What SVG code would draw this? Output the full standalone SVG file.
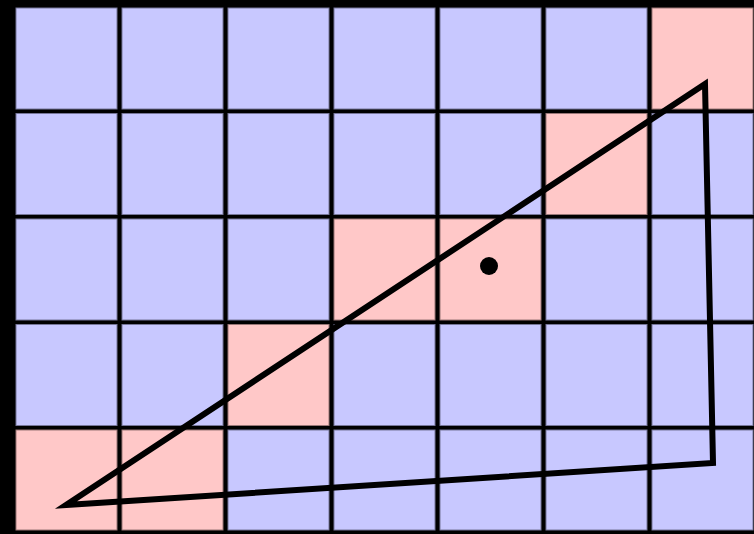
<svg xmlns="http://www.w3.org/2000/svg" width="754" height="534" viewBox="0 0 754 534">
<style>
.b{fill:#c8c8ff;stroke:#777799;stroke-width:1}
.p{fill:#ffc8c8;stroke:#997777;stroke-width:1}
</style>
<rect x="0" y="0" width="754" height="534" fill="#000"/>
<g id="grid">
<g id="row0">
<rect class="b" x="16" y="8" width="101" height="101"/><rect class="b" x="122" y="8" width="101" height="101"/><rect class="b" x="228" y="8" width="101" height="101"/><rect class="b" x="334" y="8" width="101" height="101"/><rect class="b" x="440" y="8" width="101" height="101"/><rect class="b" x="546" y="8" width="101" height="101"/><rect class="p" x="652" y="8" width="101" height="101"/>
</g>
<g id="row1">
<rect class="b" x="16" y="113.5" width="101" height="101"/><rect class="b" x="122" y="113.5" width="101" height="101"/><rect class="b" x="228" y="113.5" width="101" height="101"/><rect class="b" x="334" y="113.5" width="101" height="101"/><rect class="b" x="440" y="113.5" width="101" height="101"/><rect class="p" x="546" y="113.5" width="101" height="101"/><rect class="b" x="652" y="113.5" width="101" height="101"/>
</g>
<g id="row2">
<rect class="b" x="16" y="219" width="101" height="101"/><rect class="b" x="122" y="219" width="101" height="101"/><rect class="b" x="228" y="219" width="101" height="101"/><rect class="p" x="334" y="219" width="101" height="101"/><rect class="p" x="440" y="219" width="101" height="101"/><rect class="b" x="546" y="219" width="101" height="101"/><rect class="b" x="652" y="219" width="101" height="101"/>
</g>
<g id="row3">
<rect class="b" x="16" y="324.5" width="101" height="101"/><rect class="b" x="122" y="324.5" width="101" height="101"/><rect class="p" x="228" y="324.5" width="101" height="101"/><rect class="b" x="334" y="324.5" width="101" height="101"/><rect class="b" x="440" y="324.5" width="101" height="101"/><rect class="b" x="546" y="324.5" width="101" height="101"/><rect class="b" x="652" y="324.5" width="101" height="101"/>
</g>
<g id="row4">
<rect class="p" x="16" y="430" width="101" height="100"/><rect class="p" x="122" y="430" width="101" height="100"/><rect class="b" x="228" y="430" width="101" height="100"/><rect class="b" x="334" y="430" width="101" height="100"/><rect class="b" x="440" y="430" width="101" height="100"/><rect class="b" x="546" y="430" width="101" height="100"/><rect class="b" x="652" y="430" width="101" height="100"/>
</g>
</g>
<g id="triangle">
<polygon points="66,505 705,84 713,463" fill="none" stroke="#000" stroke-width="6" stroke-linejoin="miter"/>
</g>
<g id="point">
<circle cx="489" cy="266" r="9" fill="#000"/>
</g>
</svg>
